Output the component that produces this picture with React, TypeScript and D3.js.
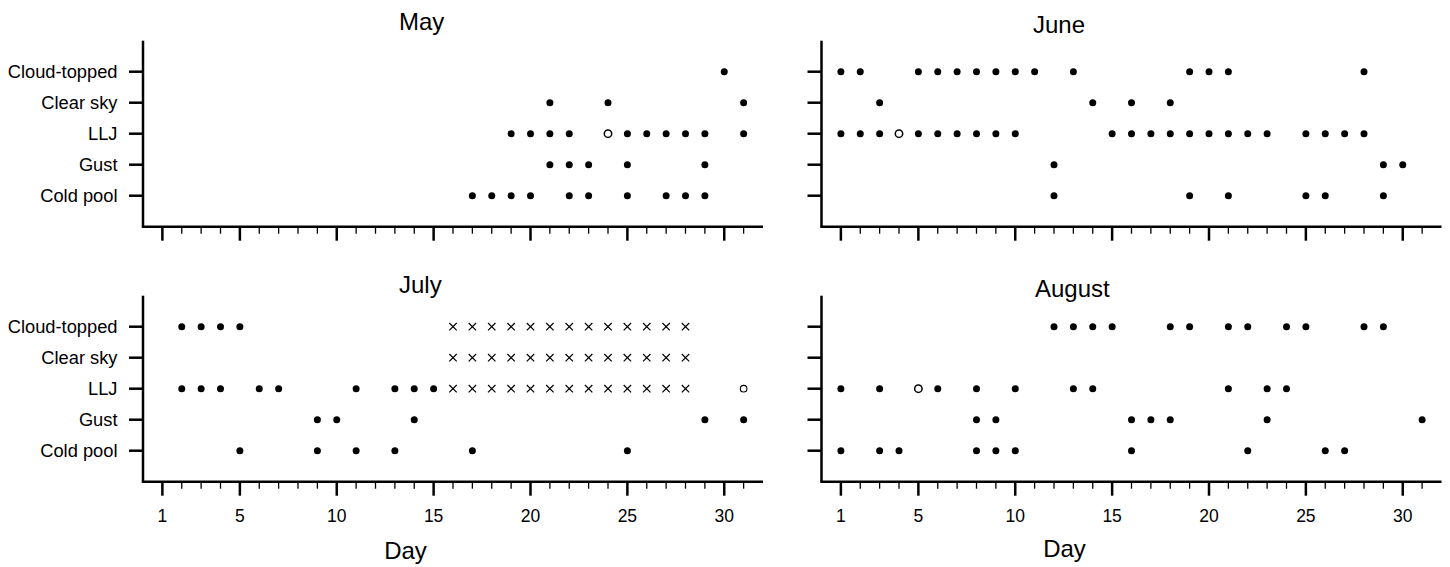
import React from 'react'
import * as d3 from 'd3'

const width = 1450
const height = 567
const panelW = 620
const panelH = 186

// rows, bottom to top
const categories = ['Cold pool', 'Gust', 'LLJ', 'Clear sky', 'Cloud-topped']
const majorTicks = [1, 5, 10, 15, 20, 25, 30]
const allDays = [1, 2, 3, 4, 5, 6, 7, 8, 9, 10, 11, 12, 13, 14, 15, 16, 17, 18, 19, 20, 21, 22, 23, 24, 25, 26, 27, 28, 29, 30, 31]

// filled dots per category (same order as categories)
const mayDots = [
    [17, 18, 19, 20, 22, 23, 25, 27, 28, 29],
    [21, 22, 23, 25, 29],
    [19, 20, 21, 22, 25, 26, 27, 28, 29, 31],
    [21, 24, 31],
    [30],
]
const juneDots = [
    [12, 19, 21, 25, 26, 29],
    [12, 29, 30],
    [1, 2, 3, 5, 6, 7, 8, 9, 10, 15, 16, 17, 18, 19, 20, 21, 22, 23, 25, 26, 27, 28],
    [3, 14, 16, 18],
    [1, 2, 5, 6, 7, 8, 9, 10, 11, 13, 19, 20, 21, 28],
]
const julyDots = [
    [5, 9, 11, 13, 17, 25],
    [9, 10, 14, 29, 31],
    [2, 3, 4, 6, 7, 11, 13, 14, 15],
    [],
    [2, 3, 4, 5],
]
const augustDots = [
    [1, 3, 4, 8, 9, 10, 16, 22, 26, 27],
    [8, 9, 16, 17, 18, 23, 31],
    [1, 3, 6, 8, 10, 13, 14, 21, 23, 24],
    [],
    [12, 13, 14, 15, 18, 19, 21, 22, 24, 25, 28, 29],
]

// open circles: [category, day]
const mayOpen = [['LLJ', 24]]
const juneOpen = [['LLJ', 4]]
const julyOpen = [['LLJ', 31]]
const augustOpen = [['LLJ', 5]]

// crosses in July
const julyCrossRows = ['LLJ', 'Clear sky', 'Cloud-topped']
const julyCrossDays = [16, 17, 18, 19, 20, 21, 22, 23, 24, 25, 26, 27, 28]

const xScale = d3.scaleLinear().domain([0, 32]).range([0, panelW])
const yScale = d3.scaleLinear().domain([0, 6]).range([panelH, 0])
const rowY = (cat) => yScale(categories.indexOf(cat) + 1)

const panels = [
    { title: 'May', dots: mayDots, open: mayOpen, crosses: false, x: 143, y: 40.7, tx: 399, ty: 29.5, labels: false, small: false },
    { title: 'June', dots: juneDots, open: juneOpen, crosses: false, x: 821.5, y: 40.7, tx: 1033, ty: 32.5, labels: false, small: false },
    { title: 'July', dots: julyDots, open: julyOpen, crosses: true, x: 143, y: 295.7, tx: 399, ty: 293, labels: true, small: true },
    { title: 'August', dots: augustDots, open: augustOpen, crosses: false, x: 821.5, y: 295.7, tx: 1035, ty: 297, labels: true, small: false },
]

const font = '"Liberation Sans", Arial, Helvetica, sans-serif'

const Panel = ({ p }) => {
    return (
        <g transform={`translate(${p.x},${p.y})`}>
            {/* y axis */}
            <line x1={0} y1={0} x2={0} y2={panelH} stroke="#000" strokeWidth={2.5} />
            {categories.map((c, i) => (
                <g key={c}>
                    <line x1={-14} x2={0} y1={yScale(i + 1)} y2={yScale(i + 1)} stroke="#000" strokeWidth={2.5} />
                    {p.x < 400 && (
                        <text x={-25.5} y={yScale(i + 1)} dy="0.36em" textAnchor="end" fontSize={18.3} fontFamily={font}>
                            {c}
                        </text>
                    )}
                </g>
            ))}
            {/* x axis */}
            <line x1={-1.2} y1={panelH} x2={panelW} y2={panelH} stroke="#000" strokeWidth={2.5} />
            {allDays.map((d) => {
                const major = majorTicks.includes(d)
                return (
                    <line
                        key={d}
                        x1={xScale(d)}
                        x2={xScale(d)}
                        y1={panelH}
                        y2={panelH + (major ? 14 : 7)}
                        stroke="#000"
                        strokeWidth={major ? 2.5 : 1.3}
                    />
                )
            })}
            {p.labels &&
                majorTicks.map((d) => (
                    <text key={d} x={xScale(d)} y={panelH + 40} textAnchor="middle" fontSize={17.5} fontFamily={font}>
                        {d}
                    </text>
                ))}
            {/* filled dots */}
            {p.dots.map((days, i) =>
                days.map((d) => (
                    <circle key={`${i}-${d}`} cx={xScale(d)} cy={yScale(i + 1)} r={3.5} fill="#000" />
                ))
            )}
            {/* open circles */}
            {p.open.map(([c, d]) => (
                <circle
                    key={`o-${c}-${d}`}
                    cx={xScale(d)}
                    cy={rowY(c)}
                    r={p.small ? 3.3 : 3.7}
                    fill="none"
                    stroke="#000"
                    strokeWidth={p.small ? 1.1 : 1.5}
                />
            ))}
            {/* crosses */}
            {p.crosses &&
                julyCrossRows.map((c) =>
                    julyCrossDays.map((d) => {
                        const cx = xScale(d)
                        const cy = rowY(c)
                        const s = 3.7
                        return (
                            <path
                                key={`x-${c}-${d}`}
                                d={`M${cx - s},${cy - s}L${cx + s},${cy + s}M${cx - s},${cy + s}L${cx + s},${cy - s}`}
                                stroke="#000"
                                strokeWidth={1.2}
                                fill="none"
                            />
                        )
                    })
                )}
        </g>
    )
}

const App = () => {
    return (
        <svg
            width={width}
            height={height}
            style={{ position: 'absolute', left: 0, top: 0, background: '#fff' }}
        >
            {panels.map((p) => (
                <g key={p.title}>
                    <Panel p={p} />
                    <text x={p.tx} y={p.ty} fontSize={24} fontFamily={font}>
                        {p.title}
                    </text>
                </g>
            ))}
            <text x={405.5} y={559} textAnchor="middle" fontSize={24} fontFamily={font}>
                Day
            </text>
            <text x={1064.5} y={557} textAnchor="middle" fontSize={24} fontFamily={font}>
                Day
            </text>
        </svg>
    )
}

export default App
